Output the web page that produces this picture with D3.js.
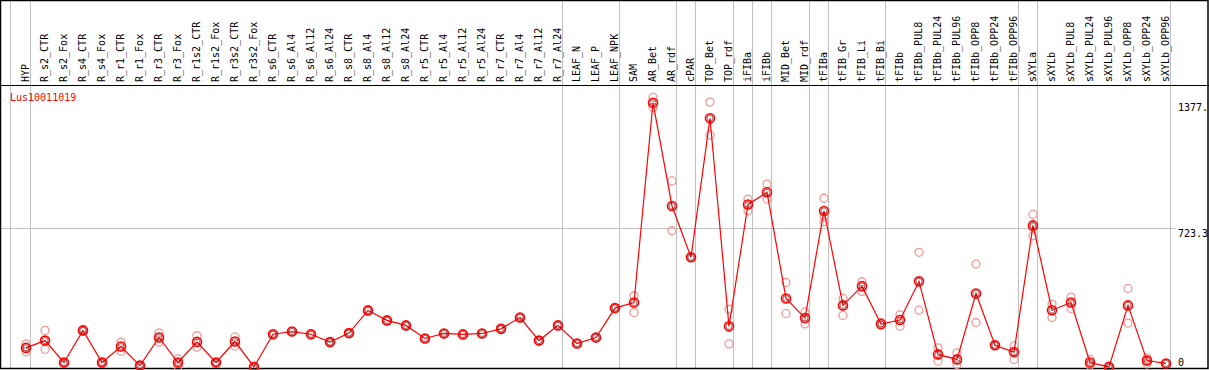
<!DOCTYPE html>
<html>
<head>
<meta charset="utf-8">
<script src="https://cdn.jsdelivr.net/npm/d3@7"></script>
<style>
html,body{margin:0;padding:0;background:#fff;}
svg{display:block;}
text{font-family:"DejaVu Sans Mono",monospace;font-size:10px;}
</style>
</head>
<body>
<svg id="chart" width="1209" height="370"></svg>
<script>
const geneName = "Lus10011019";
const categories = ["HYP","R_s2_CTR","R_s2_Fox","R_s4_CTR","R_s4_Fox","R_r1_CTR","R_r1_Fox","R_r3_CTR","R_r3_Fox","R_r1s2_CTR","R_r1s2_Fox","R_r3s2_CTR","R_r3s2_Fox","R_s6_CTR","R_s6_Al4","R_s6_Al12","R_s6_Al24","R_s8_CTR","R_s8_Al4","R_s8_Al12","R_s8_Al24","R_r5_CTR","R_r5_Al4","R_r5_Al12","R_r5_Al24","R_r7_CTR","R_r7_Al4","R_r7_Al12","R_r7_Al24","LEAF_N","LEAF_P","LEAF_NPK","SAM","AR_Bet","AR_rdf","cPAR","TOP_Bet","TOP_rdf","iFIBa","iFIBb","MID_Bet","MID_rdf","tFIBa","tFIB_Gr","tFIB_Li","tFIB_Bi","tFIBb","tFIBb_PUL8","tFIBb_PUL24","tFIBb_PUL96","tFIBb_OPP8","tFIBb_OPP24","tFIBb_OPP96","sXYLa","sXYLb","sXYLb_PUL8","sXYLb_PUL24","sXYLb_PUL96","sXYLb_OPP8","sXYLb_OPP24","sXYLb_OPP96"];
const meanValues = [102,140,26,193,26,109,10,156,26,133,26,135,3,173,187,173,132,179,297,245,219,151,177,172,177,201,260,140,219,125,156,309,338,1377,840,573,1296,214,848,911,359,257,814,323,423,226,247,448,68,42,385,116,80,739,298,338,26,3,323,36,21];
const repA = [123,193,28,196,28,132,12,180,45,165,28,159,5,173,187,173,132,179,297,245,219,151,177,172,177,201,260,140,219,125,156,309,373,1405,970,573,1380,303,876,954,442,289,880,359,446,235,274,599,102,76,538,118,114,796,330,366,42,3,411,50,21];
const repB = [81,94,24,190,24,85,8,132,7,106,24,111,1,173,187,173,132,179,297,245,219,151,177,172,177,201,260,140,219,125,156,309,286,1353,711,573,1209,123,815,876,281,227,758,271,396,220,215,298,33,16,234,114,42,685,260,307,12,3,231,19,21];
const repC = [105,null,null,null,null,null,null,null,null,null,null,null,null,null,null,null,null,null,null,null,null,null,null,null,null,null,null,null,null,null,null,null,null,null,null,null,null,null,null,null,null,null,784,null,null,null,null,null,null,null,null,null,null,727,null,null,null,null,null,null,null];
const yTickValues = [0, 723.3, 1377];
const yTickLabels = ["0", "723.3", "1377."];
const groupEnds = ["HYP","R_r7_Al24","LEAF_NPK","AR_rdf","cPAR","TOP_rdf","iFIBa","iFIBb","MID_rdf","tFIBa","tFIB_Bi","tFIBb_OPP96","sXYLa","sXYLb_OPP96"];

const svg = d3.select("#chart");
const W = 1209, H = 370;
const x = d3.scalePoint().domain(categories).range([26, 1166]);
const y = d3.scaleLinear().domain([0, 1377]).range([367.5, 102.7]);

const grid = "#c0c0c0";
const sepX = [x("HYP") - 15.5].concat(groupEnds.map(c => x(c) + 4.5));
svg.selectAll("line.sep").data(sepX).enter().append("line")
  .attr("x1", d => d).attr("x2", d => d).attr("y1", 0).attr("y2", 368)
  .attr("stroke", grid).attr("stroke-width", 1);

svg.append("line")
  .attr("x1", 0).attr("x2", 1176)
  .attr("y1", Math.round(y(723.3)) + 0.5).attr("y2", Math.round(y(723.3)) + 0.5)
  .attr("stroke", grid).attr("stroke-width", 1);

svg.append("line").attr("x1", 0).attr("x2", W).attr("y1", 85.5).attr("y2", 85.5)
  .attr("stroke", "#000").attr("stroke-width", 1);

svg.append("rect").attr("x", 0.5).attr("y", 0.5).attr("width", 1207.5).attr("height", 368)
  .attr("fill", "none").attr("stroke", "#000").attr("stroke-width", 1.5);

svg.selectAll("text.cat").data(categories).enter().append("text")
  .attr("class", "cat")
  .attr("transform", d => `translate(${x(d) + 3},82) rotate(-90)`)
  .attr("fill", "#000")
  .text(d => d);

svg.append("text").attr("x", 10).attr("y", 101).attr("fill", "#ff0000").text(geneName);

svg.selectAll("text.ytick").data(yTickValues).enter().append("text")
  .attr("x", 1178)
  .attr("y", d => Math.min(y(d) + 8.5, 365.5))
  .attr("fill", "#000")
  .text((d, i) => yTickLabels[i]);

const reps = [];
[repA, repB, repC].forEach(arr => arr.forEach((v, i) => { if (v !== null) reps.push({c: categories[i], v}); }));
svg.selectAll("circle.rep").data(reps).enter().append("circle")
  .attr("cx", d => x(d.c)).attr("cy", d => y(d.v)).attr("r", 4)
  .attr("fill", "none").attr("stroke", "#f09898").attr("stroke-width", 1.3);

const line = d3.line().x((d, i) => x(categories[i])).y(d => y(d));
svg.append("path").datum(meanValues).attr("d", line)
  .attr("fill", "none").attr("stroke", "#ff0000").attr("stroke-width", 1.2);

const g = svg.selectAll("g.pt").data(meanValues).enter().append("g")
  .attr("transform", (d, i) => `translate(${x(categories[i])},${y(d)})`);
g.append("circle").attr("r", 4.5).attr("fill", "none").attr("stroke", "#ff0000").attr("stroke-width", 1.6);
g.append("circle").attr("r", 3).attr("fill", "none").attr("stroke", "#500000").attr("stroke-width", 0.6);
</script>
</body>
</html>
